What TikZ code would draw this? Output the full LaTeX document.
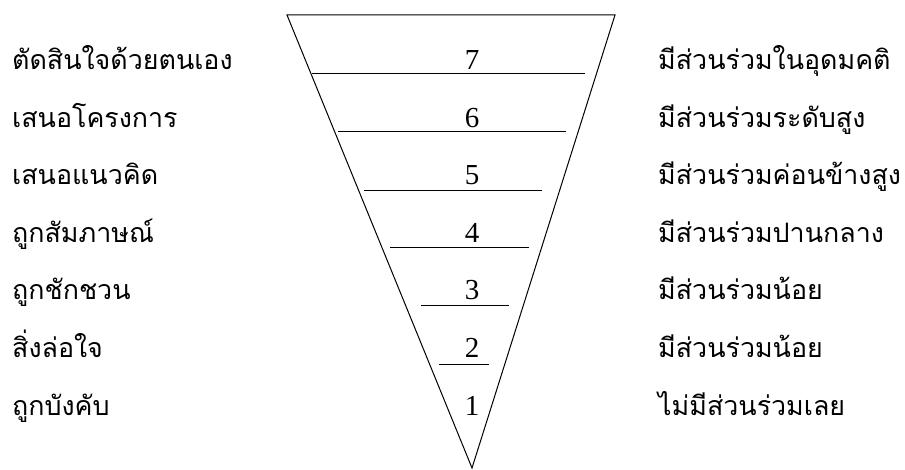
\documentclass[tikz,border=0pt]{standalone}
\usepackage{fontspec}
\setmainfont{Liberation Serif}
\newfontfamily\thaifont[Script=Thai]{Loma}

\begin{document}
\begin{tikzpicture}[x=1pt,y=-1pt,
  thai/.style={inner sep=0pt, anchor=base west, font=\thaifont\fontsize{26.8}{30}\selectfont},
  num/.style={inner sep=0pt, anchor=base, font=\fontsize{29}{32}\selectfont},
  rung/.style={line width=1pt}]
\useasboundingbox (0,0) rectangle (905,470);
% funnel
\draw[line width=1pt] (287,15) -- (615,15) -- (472,468) -- cycle;
\draw[rung] (312,74) -- (585,74);
\draw[rung] (338,132) -- (566,132);
\draw[rung] (364,191) -- (542,191);
\draw[rung] (390,248) -- (529,248);
\draw[rung] (421,306) -- (509,306);
\draw[rung] (439,364) -- (489,364);
% levels
\node[num] (n7) at (472,70) {7};
\node[num] (n6) at (472,127.5) {6};
\node[num] (n5) at (472,185) {5};
\node[num] (n4) at (472,242.5) {4};
\node[num] (n3) at (472,300) {3};
\node[num] (n2) at (472,357.5) {2};
\node[num] (n1) at (472,415) {1};
% left side
\node[thai] (act7) at (12,70) {ตัดสินใจด้วยตนเอง};
\node[thai] (act6) at (12,127.5) {เสนอโครงการ};
\node[thai] (act5) at (12,185) {เสนอแนวคิด};
\node[thai] (act4) at (12,242.5) {ถูกสัมภาษณ์};
\node[thai] (act3) at (12,300) {ถูกชักชวน};
\node[thai] (act2) at (12,357.5) {สิ่งล่อใจ};
\node[thai] (act1) at (12,415) {ถูกบังคับ};
% right side
\node[thai] (lvl7) at (658,70) {มีส่วนร่วมในอุดมคติ};
\node[thai] (lvl6) at (658,127.5) {มีส่วนร่วมระดับสูง};
\node[thai] (lvl5) at (658,185) {มีส่วนร่วมค่อนข้างสูง};
\node[thai] (lvl4) at (658,242.5) {มีส่วนร่วมปานกลาง};
\node[thai] (lvl3) at (658,300) {มีส่วนร่วมน้อย};
\node[thai] (lvl2) at (658,357.5) {มีส่วนร่วมน้อย};
\node[thai] (lvl1) at (658,415) {ไม่มีส่วนร่วมเลย};
\end{tikzpicture}
\end{document}
